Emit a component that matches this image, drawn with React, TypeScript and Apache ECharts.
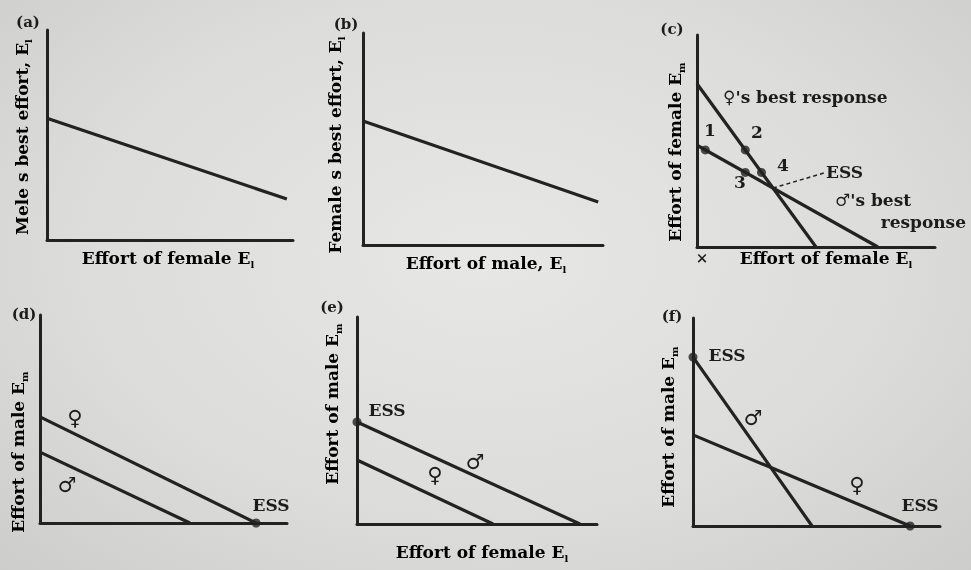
import React, { useEffect, useRef } from 'react';
import * as echarts from 'echarts';

// Each panel uses a 0..10 effort scale on both axes.
const AXIS_MAX = 10;

// (a) male's best effort as a function of female effort
const maleBestA = [[0, 5.8], [9.75, 1.95]];
// (b) female's best effort as a function of male effort
const femaleBestB = [[0, 5.85], [9.8, 2.03]];
// (c) both best-response lines and the approach to the ESS
const femaleRespC = [[0, 7.7], [5.0, 0]];
const maleRespC = [[0, 4.8], [7.6, 0]];
const stepsC = [[0.35, 4.58], [2.03, 4.58], [2.03, 3.52], [2.71, 3.52]];
const essC = [3.19, 2.78];
// (d) male deserts: ESS on the female-effort axis
const femaleD = [[0, 5.1], [8.75, 0]];
const maleD = [[0, 3.41], [6.07, 0]];
const essD = [[8.75, 0]];
// (e) female deserts: ESS on the male-effort axis
const maleE = [[0, 4.93], [9.29, 0]];
const femaleE = [[0, 3.09], [5.67, 0]];
const essE = [[0, 4.93]];
// (f) two alternative ESSs
const maleF = [[0, 8.12], [4.82, 0]];
const femaleF = [[0, 4.38], [8.79, 0]];
const essF = [[0, 8.12], [8.79, 0]];

const INK = '#222222';
const TEXT = '#1c1c1c';
const SERIF = '"DejaVu Serif", "Liberation Serif", serif';
const SYMBOL_FONT = '"DejaVu Sans", sans-serif';

const grids = [
  { left: 47, top: 30, width: 246, height: 210 },
  { left: 363, top: 33, width: 240, height: 212 },
  { left: 697, top: 35, width: 238, height: 212 },
  { left: 40, top: 315, width: 247, height: 208 },
  { left: 357, top: 317, width: 240, height: 207 },
  { left: 693, top: 318, width: 247, height: 208 },
];

const rich = {
  t: { fontFamily: SERIF, fontWeight: 'bold', fontSize: 17, lineHeight: 22, color: TEXT, verticalAlign: 'middle' },
  s: { fontFamily: SERIF, fontWeight: 'bold', fontSize: 10, lineHeight: 10, color: TEXT, verticalAlign: 'bottom' },
};

function axisTitle(x: number, y: number, main: string, sub: string, rotated: boolean) {
  return {
    type: 'text',
    x,
    y,
    rotation: rotated ? Math.PI / 2 : 0,
    style: {
      text: `{t|${main}}{s|${sub}}`,
      rich,
      align: 'center',
      verticalAlign: 'middle',
    },
  };
}

function note(x: number, y: number, text: string, opts: any = {}) {
  return {
    type: 'text',
    x,
    y,
    style: {
      text,
      fill: TEXT,
      fontFamily: opts.family || SERIF,
      fontWeight: 'bold',
      fontSize: opts.size || 17,
      align: opts.align || 'center',
      verticalAlign: 'middle',
    },
  };
}

function lineSeries(idx: number, data: number[][]) {
  return {
    type: 'line',
    xAxisIndex: idx,
    yAxisIndex: idx,
    data,
    showSymbol: false,
    silent: true,
    lineStyle: { color: INK, width: 3.2 },
  };
}

function dotSeries(idx: number, data: number[][]) {
  return {
    type: 'scatter',
    xAxisIndex: idx,
    yAxisIndex: idx,
    data,
    symbolSize: 9,
    silent: true,
    itemStyle: { color: INK },
  };
}

const GENDER = { family: SYMBOL_FONT, size: 21 };

export default function App() {
  const ref = useRef<HTMLDivElement>(null);

  useEffect(() => {
    if (!ref.current) return;
    const chart = echarts.init(ref.current, undefined, { renderer: 'svg' });

    const axisBase = {
      type: 'value',
      min: 0,
      max: AXIS_MAX,
      axisLine: { show: true, onZero: false, lineStyle: { color: INK, width: 3 } },
      axisTick: { show: false },
      axisLabel: { show: false },
      splitLine: { show: false },
    };

    const graphic: any[] = [
      // panel letters
      note(28, 22, '(a)', { size: 15 }),
      note(346, 24, '(b)', { size: 15 }),
      note(672, 29, '(c)', { size: 15 }),
      note(24, 314, '(d)', { size: 15 }),
      note(332, 307, '(e)', { size: 15 }),
      note(672, 316, '(f)', { size: 15 }),
      // y-axis titles
      axisTitle(22, 137, 'Mele s best effort, E', 'l', true),
      axisTitle(335, 145, 'Female s best effort, E', 'l', true),
      axisTitle(675, 152, 'Effort of female E', 'm', true),
      axisTitle(18, 452, 'Effort of male E', 'm', true),
      axisTitle(332, 404, 'Effort of male E', 'm', true),
      axisTitle(668, 427, 'Effort of male E', 'm', true),
      // x-axis titles
      axisTitle(168, 258, 'Effort of female E', 'l', false),
      axisTitle(486, 263, 'Effort of male, E', 'l', false),
      axisTitle(826, 258, 'Effort of female E', 'l', false),
      axisTitle(482, 552, 'Effort of female E', 'l', false),
      // (c) annotations
      note(723, 97, "\u2640's best response", { align: 'left' }),
      note(835, 200, "\u2642's best", { align: 'left' }),
      note(966, 222, 'response', { align: 'right' }),
      note(826, 172, 'ESS', { align: 'left' }),
      note(702, 258, '\u00d7', { size: 15 }),
      note(710, 130, '1'),
      note(757, 132, '2'),
      note(740, 182, '3'),
      note(783, 165, '4'),
      // (d) annotations
      note(75, 418, '\u2640', GENDER),
      note(67, 485, '\u2642', GENDER),
      note(271, 505, 'ESS'),
      // (e) annotations
      note(387, 410, 'ESS'),
      note(475, 462, '\u2642', GENDER),
      note(435, 475, '\u2640', GENDER),
      // (f) annotations
      note(727, 355, 'ESS'),
      note(920, 505, 'ESS'),
      note(753, 418, '\u2642', GENDER),
      note(857, 485, '\u2640', GENDER),
    ];

    chart.setOption({
      animation: false,
      backgroundColor: 'transparent',
      grid: grids.map((g) => ({ ...g, containLabel: false })),
      xAxis: grids.map((_, i) => ({ ...axisBase, gridIndex: i })),
      yAxis: grids.map((_, i) => ({ ...axisBase, gridIndex: i })),
      series: [
        lineSeries(0, maleBestA),
        lineSeries(1, femaleBestB),
        lineSeries(2, femaleRespC),
        lineSeries(2, maleRespC),
        dotSeries(2, stepsC),
        lineSeries(3, femaleD),
        lineSeries(3, maleD),
        dotSeries(3, essD),
        lineSeries(4, maleE),
        lineSeries(4, femaleE),
        dotSeries(4, essE),
        lineSeries(5, maleF),
        lineSeries(5, femaleF),
        dotSeries(5, essF),
      ],
      graphic,
    });

    // dashed pointer from the (c) equilibrium to its label
    const p = chart.convertToPixel({ gridIndex: 2 }, essC) as number[];
    chart.setOption({
      graphic: [
        ...graphic,
        {
          type: 'line',
          shape: { x1: p[0], y1: p[1], x2: 824, y2: 173 },
          style: { stroke: INK, lineWidth: 1.5, lineDash: [4, 3] },
        },
      ],
    });

    return () => chart.dispose();
  }, []);

  return (
    <div
      ref={ref}
      style={{
        position: 'fixed',
        left: 0,
        top: 0,
        width: 971,
        height: 570,
        background:
          'radial-gradient(ellipse at 50% 45%, #e7e7e5 0%, #dcdcda 60%, #cdcdcb 100%)',
      }}
    />
  );
}
